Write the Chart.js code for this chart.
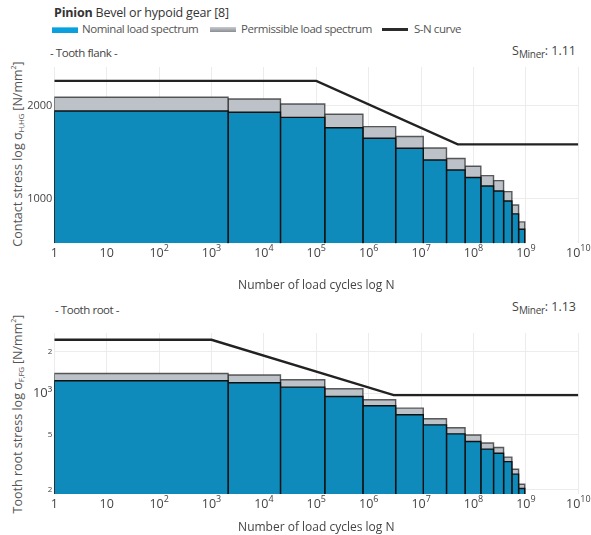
<!DOCTYPE html>
<html>
<head>
<meta charset="utf-8">
<script src="https://cdn.jsdelivr.net/npm/chart.js@4/dist/chart.umd.min.js"></script>
<style>
  body { margin: 0; background: #fff; font-family: "Open Sans", sans-serif; color: #444; }
  #wrap { position: relative; width: 591px; height: 535px; overflow: hidden; }
  canvas { position: absolute; left: 0; }
  .lbl { position: absolute; white-space: nowrap; font-size: 11.5px; line-height: 16px; letter-spacing: -0.45px; }
  .ytitle { position: absolute; white-space: nowrap; font-size: 12.5px; color: #555;
            transform: translate(-50%, -50%) rotate(-90deg); }
  sub { font-size: 10px; vertical-align: -3px; letter-spacing: -0.3px; }
  .ytitle sub { font-size: 8px; vertical-align: -2px; }
  sup { font-size: 7px; }
  .sw { position: absolute; width: 26px; }
</style>
</head>
<body>
<div id="wrap">
  <div class="lbl" style="left:54px;top:5px;color:#333;font-size:12.5px;letter-spacing:-0.2px"><b>Pinion</b> Bevel or hypoid gear [8]</div>
  <span class="sw" style="left:52px;top:27px;height:5px;background:#0aa0de;border-top:1px solid #5cc6ef"></span>
  <div class="lbl" style="left:82px;top:21px;color:#555">Nominal load spectrum</div>
  <span class="sw" style="left:210px;top:27px;height:5px;background:linear-gradient(#c8ccd0,#8a8e92)"></span>
  <div class="lbl" style="left:241px;top:21px;color:#555">Permissible load spectrum</div>
  <span class="sw" style="left:382px;top:28px;height:3px;background:#2b2b2b"></span>
  <div class="lbl" style="left:414px;top:21px;color:#555">S-N curve</div>
  <div class="lbl" style="left:50px;top:45px">- Tooth flank -</div>
  <div class="lbl" style="right:15px;top:43px;font-size:12.5px;letter-spacing:0">S<sub>Miner</sub>: 1.11</div>
  <div class="lbl" style="left:55px;top:302px">- Tooth root -</div>
  <div class="lbl" style="right:15px;top:299px;font-size:12.5px;letter-spacing:0">S<sub>Miner</sub>: 1.13</div>
  <div class="ytitle" style="left:17px;top:154px">Contact stress log &sigma;<sub>H,HG</sub> [N/mm<sup>2</sup>]</div>
  <div class="ytitle" style="left:17px;top:414px">Tooth root stress log &sigma;<sub>F,FG</sub> [N/mm<sup>2</sup>]</div>
  <canvas id="flankChart" width="591" height="250" style="top:44px"></canvas>
  <canvas id="rootChart" width="591" height="235" style="top:300px"></canvas>
</div>
<script>
// load cycle class boundaries (bars go from edge i to edge i+1)
const cycleEdges = [1, 2070, 2.07e4, 1.45e5, 7.75e5, 3.27e6, 1.1e7, 3.05e7, 6.9e7, 1.38e8, 2.41e8, 3.75e8, 5.4e8, 7.25e8, 9.5e8];
const xTickValues = [1, 10, 1e2, 1e3, 1e4, 1e5, 1e6, 1e7, 1e8, 1e9, 1e10];

// tooth flank
const flankNominal = [1922, 1904, 1834, 1698, 1569, 1457, 1336, 1240, 1173, 1101, 1061, 985, 895, 798];
const flankPermissible = [2129, 2101, 2025, 1876, 1712, 1591, 1460, 1351, 1275, 1189, 1146, 1056, 956, 843];
const flankSNCycles = [1, 1e5, 5e7, 1e10];
const flankSNStress = [2405, 2405, 1500, 1500];
const flankRange = [719, 2666];
const flankYTicks = [1000, 2000];

// tooth root
const rootNominal = [1228, 1187, 1105, 945, 809, 696, 589, 507, 446, 393, 367, 319, 259, 204];
const rootPermissible = [1387, 1350, 1248, 1074, 894, 778, 652, 561, 497, 435, 404, 344, 281, 219];
const rootSNCycles = [1, 1e3, 3e6, 1e10];
const rootSNStress = [2430, 2430, 967, 967];
const rootRange = [186, 2721];
const rootYTicks = [200, 500, 1000, 2000];

const FONT = '"Open Sans", sans-serif';
const BLUE = '#0e8bbb';
const GREY = '#bcc2c8';

function barDatasets(values, yMin, fillColor, lineColor, order) {
    return values.map((v, i) => ({
        data: [
            { x: cycleEdges[i], y: yMin },
            { x: cycleEdges[i], y: v },
            { x: cycleEdges[i + 1], y: v },
            { x: cycleEdges[i + 1], y: yMin }
        ],
        backgroundColor: fillColor,
        borderColor: lineColor,
        borderWidth: 1.4,
        fill: 'start',
        pointRadius: 0,
        order: order
    }));
}

function snDataset(cycles, stress) {
    return {
        data: cycles.map((c, i) => ({ x: c, y: stress[i] })),
        borderColor: '#222',
        borderWidth: 2.4,
        fill: false,
        pointRadius: 0,
        order: 0
    };
}

// x tick labels with superscript exponents
const xLabels = {
    id: 'xLabels',
    afterDraw(chart) {
        const ctx = chart.ctx;
        const xs = chart.scales.x;
        const y = chart.chartArea.bottom + 10;
        ctx.save();
        ctx.fillStyle = '#444';
        ctx.textBaseline = 'middle';
        ctx.textAlign = 'left';
        xTickValues.forEach(v => {
            const px = xs.getPixelForValue(v);
            const e = Math.round(Math.log10(v));
            if (e < 2) {
                ctx.font = '12.5px ' + FONT;
                const s = String(v);
                ctx.fillText(s, px - ctx.measureText(s).width / 2, y);
            } else {
                ctx.font = '12.5px ' + FONT;
                const w1 = ctx.measureText('10').width;
                ctx.font = '9px ' + FONT;
                const w2 = ctx.measureText(String(e)).width;
                const x0 = px - (w1 + w2) / 2;
                ctx.font = '12.5px ' + FONT;
                ctx.fillText('10', x0, y);
                ctx.font = '9px ' + FONT;
                ctx.fillText(String(e), x0 + w1, y - 5);
            }
        });
        ctx.restore();
    }
};

function makeChart(id, nominal, permissible, snC, snS, range, yTicks, yLabel, yFont, xHeight, padTop, titlePad) {
    const datasets = [snDataset(snC, snS)]
        .concat(barDatasets(nominal, range[0], BLUE, '#111', 1))
        .concat(barDatasets(permissible, range[0], GREY, 'rgba(40,40,40,0.75)', 2));
    return new Chart(document.getElementById(id), {
        type: 'line',
        data: { datasets: datasets },
        plugins: [xLabels],
        options: {
            responsive: false,
            animation: false,
            layout: { padding: { top: padTop, right: 12.7, left: 0, bottom: 0 } },
            plugins: { legend: { display: false }, tooltip: { enabled: false } },
            scales: {
                x: {
                    type: 'logarithmic',
                    min: 1,
                    max: 1e10,
                    bounds: 'data',
                    afterBuildTicks: s => { s.ticks = xTickValues.map(v => ({ value: v })); },
                    afterFit: s => { s.height = xHeight; },
                    ticks: { display: false },
                    grid: { color: '#ececec', drawTicks: false },
                    border: { display: false },
                    title: {
                        display: true,
                        text: 'Number of load cycles log N',
                        color: '#444',
                        font: { family: FONT, size: 12 },
                        padding: { top: 0, bottom: titlePad }
                    }
                },
                y: {
                    type: 'logarithmic',
                    min: range[0],
                    max: range[1],
                    bounds: 'data',
                    afterBuildTicks: s => { s.ticks = yTicks.map(v => ({ value: v })); },
                    afterFit: s => { s.width = 54.3; },
                    ticks: {
                        color: '#444',
                        padding: 2,
                        font: yFont,
                        callback: yLabel
                    },
                    grid: { color: '#ececec', drawTicks: false },
                    border: { display: false }
                }
            }
        }
    });
}

makeChart('flankChart', flankNominal, flankPermissible, flankSNCycles, flankSNStress, flankRange, flankYTicks,
    v => String(v), { family: FONT, size: 11 }, 50.7, 23, 1);

makeChart('rootChart', rootNominal, rootPermissible, rootSNCycles, rootSNStress, rootRange, rootYTicks,
    v => (v === 1000 ? '10³' : String(Math.round(v / Math.pow(10, Math.floor(Math.log10(v)))))),
    ctx => ({ family: FONT, size: ctx.tick && ctx.tick.value === 1000 ? 13 : 8 }), 41, 33, 0);
</script>
</body>
</html>
